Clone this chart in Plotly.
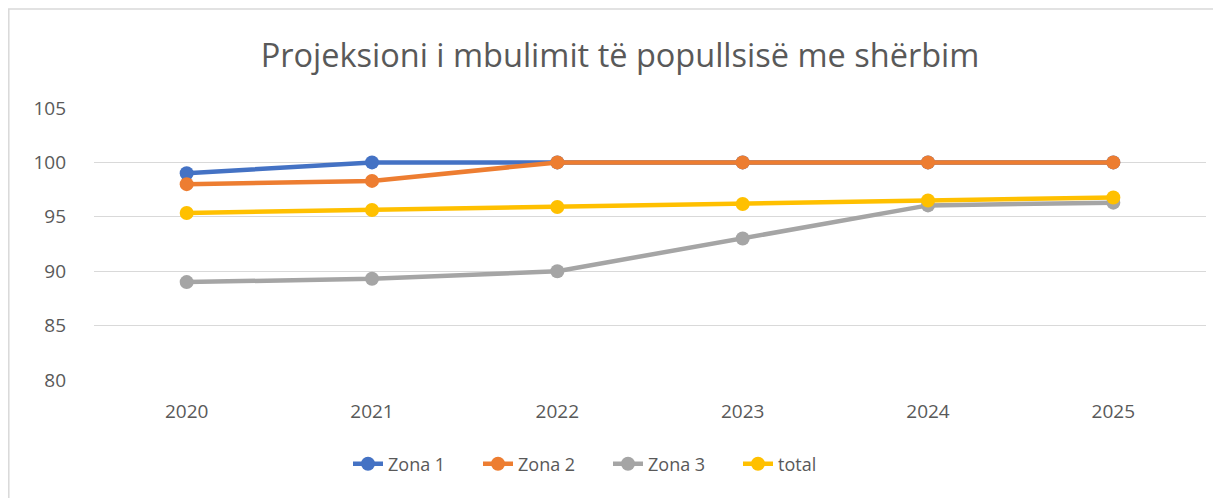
import plotly.graph_objects as go

YEARS = ["2020", "2021", "2022", "2023", "2024", "2025"]
ZONA_1 = [99.0, 100.0, 100.0, 100.0, 100.0, 100.0]
ZONA_2 = [98.0, 98.3, 100.0, 100.0, 100.0, 100.0]
ZONA_3 = [89.0, 89.3, 90.0, 93.0, 96.05, 96.3]
TOTAL = [95.35, 95.62, 95.9, 96.18, 96.5, 96.78]

TEXT = "#595959"
GRID = "#d9d9d9"
FONT = "Open Sans, Lato, sans-serif"

# the page has an 8px body margin, so work in page pixels and shift
OFF = 8
W, H = 1221, 498
L, R, T, B = 94, 15, 108, 118

series = [
    ("Zona 1", ZONA_1, "#4472c4"),
    ("Zona 2", ZONA_2, "#ed7d31"),
    ("Zona 3", ZONA_3, "#a5a5a5"),
    ("total", TOTAL, "#ffc000"),
]

fig = go.Figure()
for name, values, color in series:
    fig.add_trace(go.Scatter(
        x=YEARS, y=values, name=name, mode="lines+markers",
        line=dict(color=color, width=4.5),
        marker=dict(color=color, size=14),
    ))


def px_x(p):
    return (p - L) / (W - L - R)


def px_y(p):
    return (H - B - p) / (H - T - B)


fig.update_layout(
    width=W - OFF, height=H - OFF,
    margin=dict(l=L - OFF, r=R, t=T - OFF, b=B),
    paper_bgcolor="white", plot_bgcolor="white",
    font=dict(family=FONT, color=TEXT, size=18),
    title=dict(text="Projeksioni i mbulimit të popullsisë me shërbim",
               x=(620 - OFF) / (W - OFF), xanchor="center",
               y=1 - (56 - OFF) / (H - OFF), yanchor="middle",
               font=dict(size=32.5, color=TEXT, family=FONT)),
    showlegend=True,
    legend=dict(orientation="h", x=px_x(348), xanchor="left",
                y=px_y(464), yanchor="middle", font=dict(size=18, color=TEXT),
                entrywidth=85, entrywidthmode="pixels", traceorder="normal"),
    shapes=[
        dict(type="line", xref="paper", yref="paper", x0=px_x(OFF), x1=px_x(W + 5),
             y0=px_y(9), y1=px_y(9), line=dict(color=GRID, width=1.5)),
        dict(type="line", xref="paper", yref="paper", x0=px_x(OFF + 0.8), x1=px_x(OFF + 0.8),
             y0=px_y(9), y1=px_y(H + 5), line=dict(color=GRID, width=1.5)),
    ],
)
fig.update_xaxes(showgrid=False, zeroline=False, showline=False, ticks="",
                 range=[-0.5, 5.5], ticklabelstandoff=18,
                 tickfont=dict(size=19, color=TEXT))
fig.update_yaxes(range=[80, 105], dtick=5, gridcolor=GRID, gridwidth=1.3,
                 zeroline=False, showline=False, ticks="", ticklabelstandoff=27,
                 tickfont=dict(size=19, color=TEXT))

fig.write_html("out.html")
